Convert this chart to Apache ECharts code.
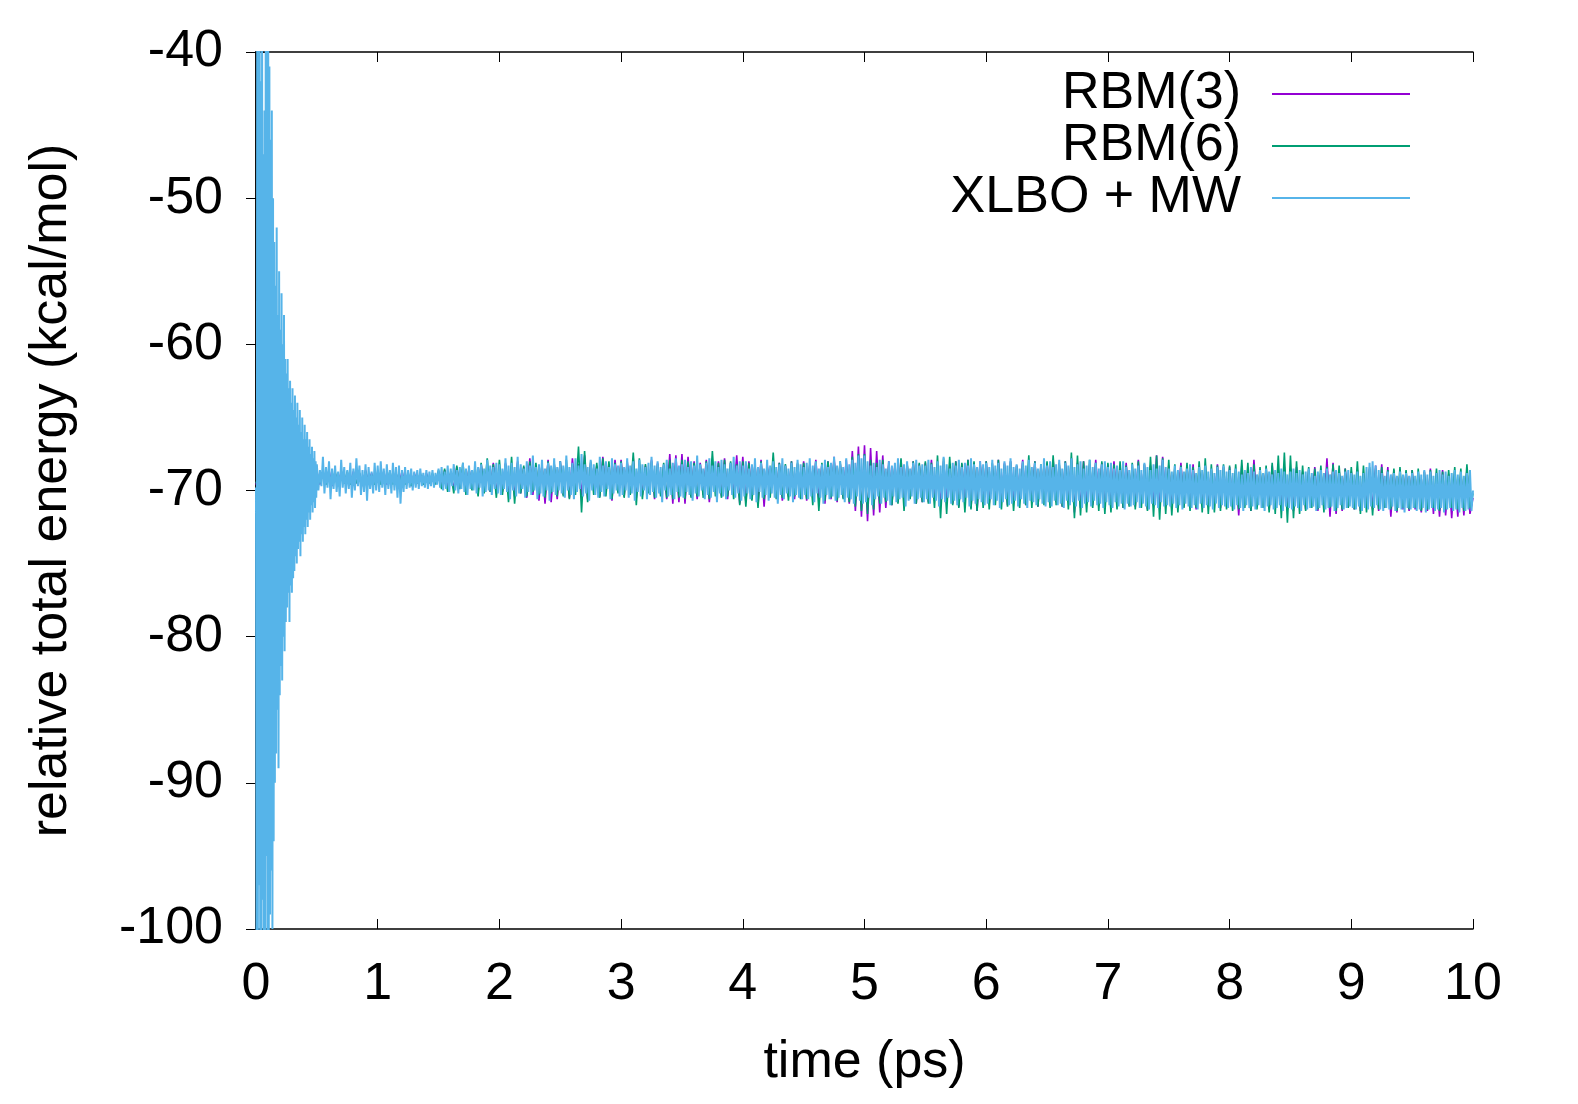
<!DOCTYPE html>
<html>
<head>
<meta charset="utf-8">
<script src="https://cdn.jsdelivr.net/npm/echarts@6/dist/echarts.min.js"></script>
<style>
  html, body { margin: 0; padding: 0; background: #fff; }
  #main { width: 1578px; height: 1104px; }
</style>
</head>
<body>
<div id="main"></div>
<script>
// sampling steps (ps)
var rbmStep = 0.025;
var earlyStep = 0.005;   // XLBO + MW start-up burst, 0 - 0.5 ps
var xlboStep = 0.0125;   // XLBO + MW after 0.5 ps
var mainStart = 0.5;

// XLBO + MW, 0 - 0.495 ps (start-up oscillation)
var xlboEarly = [
  -69.8, -104, -36, -103, -39, -97, -35, -105, -42, -101,
  -37, -98, -47, -104, -44, -102, -36, -95, -38, -106,
  -35, -103, -41, -99, -46, -96, -44, -100, -50, -94,
  -53, -90, -56, -88, -52, -85, -58, -89, -55, -84,
  -59, -82, -56.5, -83, -60, -80, -58, -81, -61, -79,
  -62, -78, -61, -77, -63, -79, -62.5, -76.5, -64, -77,
  -63, -76, -64.5, -75.5, -63.5, -74.5, -65, -75, -64, -74,
  -65.5, -73.5, -64.5, -74.5, -66, -73, -65, -73.5, -66.5, -72.5,
  -65.5, -73, -66.5, -72, -66, -72.5, -67, -71.5, -66.5, -72,
  -67.5, -71, -67, -71.5, -67.8, -70.8, -67.3, -71.2, -68, -70.5
];

// XLBO + MW, 0.5 - 10 ps, two lines per 0.5 ps
var xlboEnergy = [
  -68.2, -70.0, -68.6, -69.7, -67.7, -70.2, -68.4, -69.8, -68.0, -70.6, -68.5, -69.9, -68.3, -70.1, -68.7, -70.4, -67.9, -69.8, -68.4, -70.2,
  -68.6, -69.9, -68.1, -70.5, -68.5, -70.0, -67.8, -69.7, -68.3, -70.3, -68.6, -70.1, -68.2, -70.7, -68.4, -69.9, -68.7, -70.2, -68.1, -70.0,
  -68.3, -70.1, -68.0, -69.8, -68.5, -70.3, -68.2, -69.9, -68.6, -70.2, -68.1, -70.0, -68.4, -70.5, -68.3, -70.9, -68.6, -70.1, -68.4, -69.9,
  -68.6, -69.8, -68.5, -70.0, -68.7, -69.8, -68.6, -69.9, -68.5, -69.7, -68.8, -69.8, -68.6, -69.9, -68.7, -69.7, -68.6, -69.8, -68.8, -69.6,
  -68.5, -69.8, -68.4, -70.0, -68.7, -69.9, -68.3, -70.1, -68.5, -69.7, -68.2, -70.0, -68.6, -70.2, -68.4, -69.9, -68.1, -70.1, -68.5, -70.3,
  -68.3, -69.9, -68.6, -70.0, -68.0, -70.2, -68.4, -69.8, -68.2, -70.4, -68.5, -70.1, -67.9, -70.0, -68.3, -70.3, -68.4, -69.9, -68.1, -70.2,
  -68.2, -70.3, -68.5, -69.9, -67.8, -70.1, -68.3, -70.6, -68.1, -70.0, -68.4, -70.4, -67.7, -70.2, -68.2, -69.9, -68.5, -70.5, -68.0, -70.1,
  -68.3, -70.3, -67.6, -70.0, -68.4, -70.6, -68.2, -70.2, -67.9, -70.4, -68.5, -70.0, -68.1, -70.7, -68.3, -70.1, -67.8, -70.3, -68.4, -70.0,
  -68.0, -70.2, -68.3, -70.5, -67.6, -70.0, -68.4, -70.3, -68.1, -70.6, -67.8, -70.1, -68.3, -69.9, -67.5, -70.4, -68.2, -70.2, -68.4, -70.7,
  -67.9, -70.0, -68.2, -70.3, -68.5, -70.5, -67.7, -70.1, -68.3, -70.4, -68.0, -69.9, -68.4, -70.6, -67.8, -70.2, -68.2, -70.0, -68.3, -70.4,
  -68.1, -70.3, -68.4, -70.0, -67.8, -70.5, -68.3, -70.2, -68.0, -70.7, -68.5, -70.1, -67.9, -70.4, -68.2, -70.0, -68.4, -70.6, -68.1, -70.3,
  -67.7, -70.1, -68.3, -70.5, -68.0, -70.2, -68.4, -70.8, -68.2, -70.0, -67.9, -70.4, -68.5, -70.3, -68.1, -70.6, -67.8, -70.1, -68.3, -70.4,
  -68.2, -70.5, -67.9, -70.1, -68.4, -70.3, -68.0, -70.7, -68.3, -70.2, -67.6, -70.4, -68.2, -70.0, -68.5, -70.6, -68.1, -70.3, -67.8, -70.5,
  -68.3, -70.1, -68.0, -70.8, -68.4, -70.2, -67.9, -70.4, -68.2, -70.6, -68.5, -70.0, -68.1, -70.3, -67.7, -70.5, -68.3, -70.2, -68.0, -70.7,
  -68.3, -70.4, -68.0, -70.2, -68.5, -70.6, -68.2, -70.3, -67.8, -70.8, -68.4, -70.1, -68.1, -70.5, -68.5, -70.3, -67.9, -70.7, -68.3, -70.2,
  -68.0, -70.5, -68.4, -70.9, -68.2, -70.3, -67.8, -70.6, -68.3, -70.2, -68.5, -70.4, -68.1, -70.8, -68.4, -70.3, -67.9, -70.5, -68.2, -70.6,
  -68.4, -70.3, -68.1, -70.6, -67.8, -70.4, -68.3, -70.8, -68.0, -70.2, -68.5, -70.5, -68.2, -70.9, -67.9, -70.3, -68.4, -70.6, -68.1, -70.4,
  -67.7, -70.7, -68.3, -70.5, -68.0, -70.3, -68.4, -70.8, -67.8, -70.5, -68.2, -70.6, -67.9, -70.9, -68.1, -70.4, -67.6, -70.7, -67.8, -70.9,
  -67.6, -70.8, -68.0, -70.5, -68.3, -71.0, -68.1, -70.6, -68.4, -70.4, -67.9, -70.9, -68.2, -70.5, -68.5, -70.7, -68.0, -71.0, -68.3, -70.4,
  -68.1, -70.8, -67.8, -70.6, -68.4, -70.5, -68.2, -71.1, -68.0, -70.7, -68.5, -70.4, -68.1, -70.9, -67.9, -70.6, -68.3, -70.5, -68.2, -70.8,
  -68.3, -70.6, -67.9, -70.9, -68.2, -70.5, -68.4, -70.7, -68.0, -71.1, -68.3, -70.6, -67.7, -70.8, -68.2, -70.5, -68.5, -70.9, -68.1, -70.7,
  -68.3, -71.0, -67.9, -70.6, -68.4, -70.8, -68.1, -70.5, -68.3, -71.1, -67.8, -70.7, -68.2, -70.9, -68.4, -70.6, -68.0, -70.8, -68.2, -71.0,
  -68.1, -70.9, -68.4, -70.6, -67.9, -71.0, -68.3, -70.7, -68.1, -71.2, -68.5, -70.8, -68.0, -70.6, -68.3, -71.0, -67.8, -70.9, -68.4, -70.7,
  -68.2, -71.1, -68.5, -70.6, -68.0, -70.9, -68.3, -71.2, -67.9, -70.7, -68.4, -70.8, -68.1, -71.0, -68.5, -70.6, -68.2, -70.9, -67.8, -71.1,
  -68.3, -70.8, -68.0, -71.1, -68.4, -70.7, -68.2, -71.0, -67.9, -70.9, -68.5, -71.2, -68.1, -70.7, -68.3, -71.0, -67.8, -70.8, -68.4, -71.1,
  -68.2, -70.7, -68.0, -71.2, -68.5, -70.9, -68.3, -70.8, -67.9, -71.1, -68.4, -70.7, -68.1, -71.0, -68.5, -70.9, -68.2, -71.2, -68.0, -70.8,
  -68.4, -71.0, -68.1, -71.2, -68.5, -70.8, -68.3, -71.1, -68.6, -70.9, -68.0, -71.3, -68.4, -70.9, -68.6, -71.1, -68.2, -71.0, -68.5, -70.8,
  -68.3, -71.2, -68.6, -70.9, -68.1, -71.1, -68.4, -71.3, -68.6, -70.9, -68.2, -71.0, -68.5, -71.2, -68.3, -70.8, -67.9, -71.1, -68.4, -71.0,
  -68.5, -71.1, -68.7, -70.9, -68.3, -71.2, -68.6, -71.0, -68.4, -71.3, -68.7, -70.9, -68.5, -71.1, -68.2, -71.2, -68.6, -71.0, -68.8, -71.3,
  -68.4, -70.9, -68.6, -71.2, -68.3, -71.0, -68.7, -71.1, -68.5, -71.3, -68.8, -70.9, -68.4, -71.2, -68.6, -71.0, -68.3, -71.1, -68.7, -71.2,
  -68.6, -71.1, -68.8, -71.3, -68.5, -71.0, -68.7, -71.2, -68.9, -71.4, -68.6, -71.0, -68.8, -71.2, -68.4, -71.1, -68.7, -71.3, -68.9, -71.0,
  -68.6, -71.2, -68.8, -71.4, -68.5, -71.1, -68.7, -71.0, -68.9, -71.3, -68.6, -71.2, -68.8, -71.0, -68.5, -71.4, -68.7, -71.1, -68.9, -71.2,
  -68.7, -71.3, -68.5, -71.1, -68.8, -71.2, -68.6, -71.4, -68.9, -71.0, -68.7, -71.3, -68.5, -71.2, -68.8, -71.1, -69.0, -71.4, -68.7, -71.2,
  -68.6, -71.0, -68.8, -71.3, -68.5, -71.2, -68.9, -71.1, -68.7, -71.4, -68.6, -71.2, -68.8, -71.0, -69.0, -71.3, -68.7, -71.2, -68.6, -71.1,
  -68.8, -71.2, -68.9, -71.3, -68.7, -71.1, -69.0, -71.4, -68.8, -71.2, -68.4, -71.3, -68.1, -71.1, -68.0, -71.2, -68.3, -71.0, -68.6, -71.3,
  -68.8, -71.4, -69.0, -71.2, -68.7, -71.3, -68.9, -71.1, -68.8, -71.4, -69.0, -71.2, -68.7, -71.3, -68.9, -71.5, -68.8, -71.2, -69.0, -71.3,
  -68.8, -71.2, -69.0, -71.4, -68.7, -71.3, -68.9, -71.2, -68.6, -71.5, -68.9, -71.3, -68.7, -71.2, -69.0, -71.4, -68.8, -71.3, -68.6, -71.2,
  -68.9, -71.5, -68.7, -71.3, -69.0, -71.2, -68.8, -71.4, -68.6, -71.3, -68.9, -71.5, -68.7, -71.2, -69.0, -71.4, -68.8, -71.3, -68.6, -71.4,
  -70.0
];

// RBM(3), 0 - 10 ps, one line per 0.5 ps
var rbm3Energy = [
  -69.6, -68.8, -69.7, -68.7, -69.5, -68.9, -69.8, -68.6, -69.6, -68.8, -69.7, -68.7, -69.5, -68.9, -69.8, -68.7, -69.6, -68.8, -69.5, -68.9,
  -68.7, -69.6, -68.8, -69.5, -68.6, -69.7, -68.8, -69.6, -68.7, -69.5, -68.9, -69.6, -68.7, -69.5, -68.8, -69.7, -68.6, -69.5, -68.8, -69.6,
  -68.8, -69.5, -68.7, -69.6, -68.9, -69.5, -68.8, -69.6, -68.7, -69.5, -68.9, -69.7, -68.8, -69.5, -68.9, -69.6, -68.8, -69.5, -68.9, -69.5,
  -68.7, -69.7, -68.6, -69.8, -68.8, -69.9, -68.4, -69.8, -68.6, -70.0, -68.5, -69.9, -68.7, -70.1, -68.2, -69.9, -68.5, -70.1, -68.1, -70.2,
  -68.4, -70.1, -68.1, -70.0, -68.5, -70.4, -68.0, -70.2, -68.4, -70.5, -67.8, -70.3, -68.3, -70.7, -68.2, -70.9, -67.9, -70.8, -68.2, -70.6,
  -68.0, -70.3, -68.3, -70.5, -67.8, -70.1, -68.2, -70.3, -67.6, -70.6, -68.1, -70.0, -68.3, -70.4, -67.7, -70.2, -68.2, -70.7, -67.9, -70.1,
  -67.9, -70.4, -68.0, -70.1, -67.8, -70.5, -68.2, -70.3, -68.3, -70.0, -67.9, -70.6, -68.1, -70.2, -68.3, -70.6, -67.5, -70.9, -67.6, -70.8,
  -67.5, -70.9, -67.7, -70.4, -68.0, -70.6, -68.1, -70.3, -67.9, -70.8, -68.2, -70.1, -68.0, -70.4, -67.8, -70.6, -68.1, -70.3, -67.6, -70.9,
  -67.7, -70.8, -68.0, -70.6, -68.2, -71.0, -67.9, -71.1, -68.2, -70.3, -68.0, -70.5, -68.1, -70.7, -68.3, -70.4, -68.0, -70.6, -68.2, -70.5,
  -68.0, -70.7, -68.3, -70.5, -67.9, -70.6, -68.2, -70.9, -68.0, -70.6, -67.7, -70.8, -68.1, -70.5, -67.9, -70.9, -67.3, -71.4, -67.0, -71.8,
  -66.9, -72.1, -67.1, -71.7, -67.3, -71.5, -67.6, -71.2, -68.0, -71.0, -68.2, -70.8, -67.9, -70.7, -68.2, -70.5, -68.0, -70.9, -68.2, -70.8,
  -68.1, -70.8, -67.9, -70.7, -68.2, -71.0, -68.0, -70.6, -68.3, -70.9, -68.0, -71.1, -68.2, -70.7, -67.9, -71.2, -68.1, -71.4, -68.0, -70.9,
  -68.0, -70.9, -68.2, -70.7, -67.9, -70.8, -68.1, -71.0, -68.0, -70.7, -68.3, -70.6, -67.9, -71.0, -68.2, -70.8, -68.0, -71.1, -68.3, -70.7,
  -68.1, -71.0, -67.9, -70.8, -68.2, -71.1, -68.0, -70.7, -67.8, -71.5, -68.1, -71.2, -68.0, -70.8, -68.2, -71.0, -67.9, -70.7, -68.1, -71.1,
  -68.2, -71.1, -68.0, -70.9, -68.3, -71.2, -68.1, -71.0, -68.4, -71.1, -67.9, -70.9, -68.2, -71.3, -68.3, -71.0, -67.6, -71.1, -67.7, -70.9,
  -68.3, -71.2, -68.5, -71.0, -68.1, -71.1, -68.4, -70.9, -68.2, -71.3, -68.5, -71.0, -68.3, -71.1, -68.6, -70.9, -68.2, -71.2, -68.4, -71.0,
  -68.4, -71.1, -68.6, -71.7, -68.3, -71.0, -68.5, -71.4, -67.9, -71.1, -68.7, -71.0, -68.5, -71.3, -68.3, -71.1, -68.6, -70.9, -68.4, -71.3,
  -68.5, -71.4, -68.4, -71.1, -68.7, -71.3, -68.6, -71.0, -68.4, -71.4, -68.7, -71.1, -67.8, -71.8, -68.1, -71.6, -68.6, -71.4, -68.5, -71.1,
  -68.7, -71.3, -68.6, -71.4, -68.8, -71.1, -68.5, -71.3, -68.3, -71.4, -68.2, -71.2, -68.4, -71.8, -68.6, -71.5, -68.8, -71.3, -68.7, -71.4,
  -68.6, -71.3, -68.8, -71.5, -68.7, -71.4, -68.5, -71.6, -68.8, -71.8, -68.6, -71.7, -68.9, -71.9, -68.7, -71.8, -68.8, -71.7, -68.6, -71.6,
  -70.5
];

// RBM(6), 0 - 10 ps, one line per 0.5 ps
var rbm6Energy = [
  -69.5, -68.9, -69.6, -68.8, -69.7, -68.9, -69.5, -68.8, -69.6, -68.9, -69.7, -68.8, -69.6, -68.9, -69.5, -68.8, -69.7, -68.9, -69.6, -68.8,
  -68.8, -69.5, -68.7, -69.6, -68.9, -69.5, -68.7, -69.7, -68.8, -69.5, -68.7, -69.6, -68.9, -69.5, -68.8, -69.6, -68.7, -69.5, -68.9, -69.6,
  -68.8, -69.6, -68.9, -69.5, -68.7, -69.6, -68.8, -69.5, -68.9, -69.6, -68.8, -69.7, -68.9, -69.5, -68.8, -69.6, -68.9, -69.5, -68.8, -69.6,
  -68.6, -69.9, -68.5, -70.1, -68.7, -70.2, -68.3, -69.9, -68.1, -70.3, -68.5, -70.0, -68.4, -70.4, -68.1, -70.2, -67.8, -70.1, -68.2, -70.5,
  -67.9, -70.3, -68.2, -70.8, -67.7, -70.9, -68.1, -70.2, -68.3, -70.4, -68.0, -70.1, -68.1, -70.3, -68.3, -70.5, -68.0, -70.2, -68.1, -70.4,
  -68.0, -70.4, -67.9, -70.6, -68.2, -70.3, -67.0, -71.5, -67.3, -70.8, -68.0, -70.3, -68.1, -70.5, -67.8, -70.4, -68.0, -70.6, -68.1, -70.2,
  -68.0, -70.5, -68.1, -70.3, -67.4, -71.0, -67.8, -70.6, -68.2, -70.2, -68.0, -70.5, -68.2, -70.4, -68.1, -70.5, -67.9, -70.6, -68.0, -70.5,
  -67.9, -70.6, -68.0, -70.5, -68.1, -70.4, -68.2, -70.5, -68.0, -70.6, -67.3, -70.4, -68.1, -70.5, -67.9, -70.4, -68.0, -70.6, -68.2, -71.0,
  -68.0, -71.1, -68.1, -70.7, -68.2, -71.2, -68.0, -70.6, -68.3, -70.5, -67.4, -70.6, -68.1, -70.5, -68.2, -70.7, -68.0, -70.4, -68.1, -70.6,
  -68.1, -70.6, -68.2, -71.0, -68.0, -71.4, -68.1, -70.7, -68.0, -70.5, -67.9, -70.7, -68.0, -70.6, -68.2, -70.8, -67.7, -71.1, -67.5, -71.4,
  -67.5, -71.6, -67.9, -71.3, -68.1, -70.9, -67.9, -70.8, -68.2, -71.0, -68.3, -70.9, -67.8, -71.4, -68.1, -70.6, -68.0, -70.9, -68.1, -70.8,
  -68.0, -70.9, -68.1, -71.2, -67.6, -71.9, -67.8, -71.6, -67.7, -71.0, -68.0, -71.2, -68.1, -71.5, -67.9, -71.3, -68.0, -71.4, -68.1, -71.2,
  -68.0, -71.3, -68.1, -71.0, -67.9, -71.3, -68.2, -71.1, -68.0, -71.4, -68.3, -71.2, -68.1, -71.0, -67.6, -71.2, -68.0, -71.1, -68.2, -71.0,
  -68.0, -71.2, -67.6, -71.0, -68.1, -71.1, -68.0, -71.3, -67.4, -71.9, -67.6, -71.7, -68.0, -71.5, -67.9, -71.2, -68.1, -71.4, -68.0, -71.6,
  -68.1, -71.5, -68.2, -71.3, -68.0, -71.2, -68.3, -71.1, -68.1, -71.3, -68.0, -71.2, -68.2, -71.4, -67.7, -71.8, -67.6, -72.0, -67.8, -71.6,
  -67.9, -71.7, -68.2, -71.5, -68.3, -71.2, -68.1, -71.4, -68.4, -71.2, -68.0, -71.5, -67.8, -71.6, -68.2, -71.5, -68.3, -71.4, -68.2, -71.3,
  -68.3, -71.4, -68.2, -71.3, -67.9, -71.2, -68.1, -71.4, -68.2, -71.3, -68.4, -71.2, -68.3, -71.5, -68.1, -71.6, -67.6, -71.9, -67.4, -72.2,
  -67.6, -71.9, -68.0, -71.6, -68.3, -71.4, -68.4, -71.2, -68.5, -71.3, -68.3, -71.5, -68.4, -71.2, -68.2, -71.4, -68.3, -71.3, -68.5, -71.2,
  -68.4, -71.3, -68.0, -71.6, -68.3, -71.5, -68.4, -71.7, -68.5, -71.3, -68.4, -71.2, -68.6, -71.3, -68.5, -71.4, -68.4, -71.2, -68.6, -71.3,
  -68.6, -71.2, -68.5, -71.4, -68.7, -71.3, -68.6, -71.2, -68.5, -71.4, -68.7, -71.3, -68.6, -71.2, -68.4, -71.3, -68.5, -71.4, -68.2, -71.2,
  -70.2
];

var seriesNames = ['RBM(3)', 'RBM(6)', 'XLBO + MW'];
var seriesColors = ['#9400d3', '#009e73', '#56b4e9'];
var xTicks = { min: 0, max: 10, interval: 1 };
var yTicks = { min: -100, max: -40, interval: 10 };

function toPoints(values, start, step) {
  return values.map(function (v, i) { return [+(start + i * step).toFixed(4), v]; });
}

var fontFamily = '"Liberation Sans", Arial, sans-serif';
var fontSize = 52;
var axisBase = {
  axisLine: { show: true, lineStyle: { color: '#000', width: 1.5 } },
  axisTick: { show: true, inside: true, length: 10, lineStyle: { color: '#000', width: 1 } },
  splitLine: { show: false }
};

var myChart = echarts.init(document.getElementById('main'));

function legendFor(name, top) {
  return {
    data: [name],
    right: 168,
    top: top,
    padding: 0,
    orient: 'vertical',
    align: 'right',
    icon: 'rect',
    itemWidth: 138,
    itemHeight: 2,
    selectedMode: false,
    textStyle: { fontSize: fontSize, color: '#000', fontFamily: fontFamily, padding: [0, 26, 0, 0] }
  };
}

function lineSeries(idx, points, width) {
  return {
    name: seriesNames[idx], type: 'line', showSymbol: false, symbol: 'none',
    clip: true, sampling: null,
    lineStyle: { color: seriesColors[idx], width: width, join: 'bevel' },
    itemStyle: { color: seriesColors[idx] },
    data: points
  };
}

var xlboPoints = toPoints(xlboEarly, 0, earlyStep)
  .concat(toPoints(xlboEnergy, mainStart, xlboStep));

var option = {
  animation: false,
  backgroundColor: '#fff',
  grid: { left: 256, right: 105, top: 52, bottom: 175 },
  legend: [
    legendFor(seriesNames[0], 68),
    legendFor(seriesNames[1], 120),
    legendFor(seriesNames[2], 172)
  ],
  xAxis: [
    Object.assign({}, axisBase, {
      type: 'value', position: 'bottom',
      min: xTicks.min, max: xTicks.max, interval: xTicks.interval,
      name: 'time (ps)', nameLocation: 'middle', nameGap: 108,
      nameTextStyle: { fontSize: fontSize, color: '#000', fontFamily: fontFamily },
      axisLabel: { fontSize: fontSize, color: '#000', fontFamily: fontFamily, margin: 30 }
    }),
    Object.assign({}, axisBase, {
      type: 'value', position: 'top',
      min: xTicks.min, max: xTicks.max, interval: xTicks.interval,
      axisLabel: { show: false }
    })
  ],
  yAxis: [
    Object.assign({}, axisBase, {
      type: 'value', position: 'left',
      min: yTicks.min, max: yTicks.max, interval: yTicks.interval,
      name: 'relative total energy (kcal/mol)', nameLocation: 'middle', nameGap: 178,
      nameTextStyle: { fontSize: fontSize, color: '#000', fontFamily: fontFamily },
      axisLabel: { fontSize: fontSize, color: '#000', fontFamily: fontFamily, margin: 33 }
    }),
    Object.assign({}, axisBase, {
      type: 'value', position: 'right',
      min: yTicks.min, max: yTicks.max, interval: yTicks.interval,
      axisLabel: { show: false }
    })
  ],
  series: [
    lineSeries(0, toPoints(rbm3Energy, 0, rbmStep), 1.6),
    lineSeries(1, toPoints(rbm6Energy, 0, rbmStep), 1.6),
    lineSeries(2, xlboPoints, 2.0)
  ]
};

myChart.setOption(option);
</script>
</body>
</html>
